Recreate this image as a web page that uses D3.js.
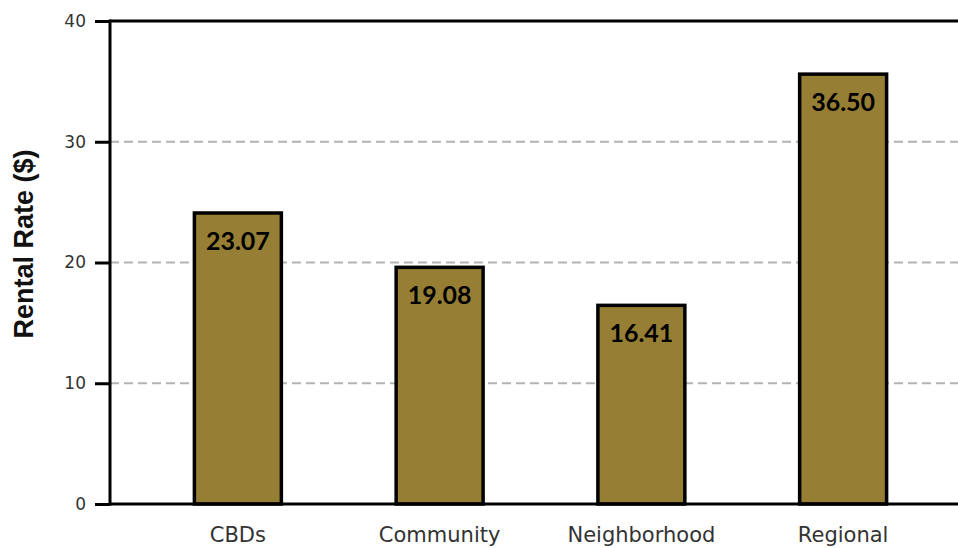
<!DOCTYPE html>
<html>
<head>
<meta charset="utf-8">
<script src="https://cdn.jsdelivr.net/npm/d3@7"></script>
<style>
  html, body { margin: 0; padding: 0; background: #fff; }
  svg { display: block; }
</style>
</head>
<body>
<svg id="chart" width="958" height="548"></svg>
<script>
// Data
const categories = ["CBDs", "Community", "Neighborhood", "Regional"];
const barValues = [24.1, 19.6, 16.45, 35.6];          // bar heights as drawn
const barLabels = ["23.07", "19.08", "16.41", "36.50"]; // printed labels
const yTicks = [0, 10, 20, 30, 40];
const yTitle = "Rental Rate ($)";

(function () {
const pLeft = 110, pTop = 21, pBottom = 504, pRight = 958;

const svg = d3.select("#chart");

const y = d3.scaleLinear().domain([0, 40]).range([pBottom, pTop]);
const x = d3.scaleBand().domain(categories).range([137, 944])
  .paddingInner(0.569).paddingOuter(0.2845);

// gridlines
svg.append("g").selectAll("line").data(yTicks.filter(d => d > 0 && d < 40)).join("line")
  .attr("x1", pLeft).attr("x2", pRight)
  .attr("y1", d => y(d)).attr("y2", d => y(d))
  .attr("stroke", "#b3b3b3").attr("stroke-width", 2)
  .attr("stroke-dasharray", "9,5");

// bars
svg.append("g").selectAll("rect").data(categories).join("rect")
  .attr("x", d => x(d))
  .attr("width", x.bandwidth())
  .attr("y", (d, i) => y(barValues[i]))
  .attr("height", (d, i) => y(0) - y(barValues[i]))
  .attr("fill", "#967f34")
  .attr("stroke", "#000").attr("stroke-width", 3.5);

// bar labels
svg.append("g").selectAll("text").data(categories).join("text")
  .attr("x", d => x(d) + x.bandwidth() / 2)
  .attr("y", (d, i) => y(barValues[i]) + 37)
  .attr("text-anchor", "middle")
  .attr("font-family", "Lato, sans-serif")
  .attr("font-weight", 700)
  .attr("font-size", 25)
  .attr("fill", "#000")
  .text((d, i) => barLabels[i]);

// frame lines: top, bottom
const frame = svg.append("g").attr("stroke", "#000").attr("stroke-width", 3);
frame.append("line").attr("x1", pLeft).attr("x2", pRight).attr("y1", pTop).attr("y2", pTop);
frame.append("line").attr("x1", pLeft).attr("x2", pRight).attr("y1", pBottom).attr("y2", pBottom);

// y axis
const yAxis = d3.axisLeft(y).tickValues(yTicks).tickSize(15).tickPadding(9).tickFormat(d3.format("d"));
const gy = svg.append("g").attr("transform", `translate(${pLeft},0)`).call(yAxis);
gy.select(".domain").attr("stroke", "#000").attr("stroke-width", 3)
  .attr("d", `M0,${pTop - 1.5}V${pBottom + 1.5}`);
gy.selectAll(".tick line").attr("stroke", "#000").attr("stroke-width", 3);
gy.selectAll(".tick text")
  .attr("font-family", "'DejaVu Sans', sans-serif")
  .attr("font-size", 17).attr("fill", "#333");

// x axis labels
const xAxis = d3.axisBottom(x).tickSize(0).tickPadding(0);
const gx = svg.append("g").attr("transform", `translate(0,${pBottom})`).call(xAxis);
gx.select(".domain").remove();
gx.selectAll(".tick text")
  .attr("dy", null)
  .attr("y", 38)
  .attr("font-family", "'DejaVu Sans', sans-serif")
  .attr("font-size", 21).attr("fill", "#333");

// y title
svg.append("text")
  .attr("transform", "translate(33,244) rotate(-90)")
  .attr("text-anchor", "middle")
  .attr("font-family", "'Liberation Sans', Arial, sans-serif")
  .attr("font-weight", 700)
  .attr("font-size", 27)
  .attr("fill", "#111")
  .text(yTitle);
})();
</script>
</body>
</html>
